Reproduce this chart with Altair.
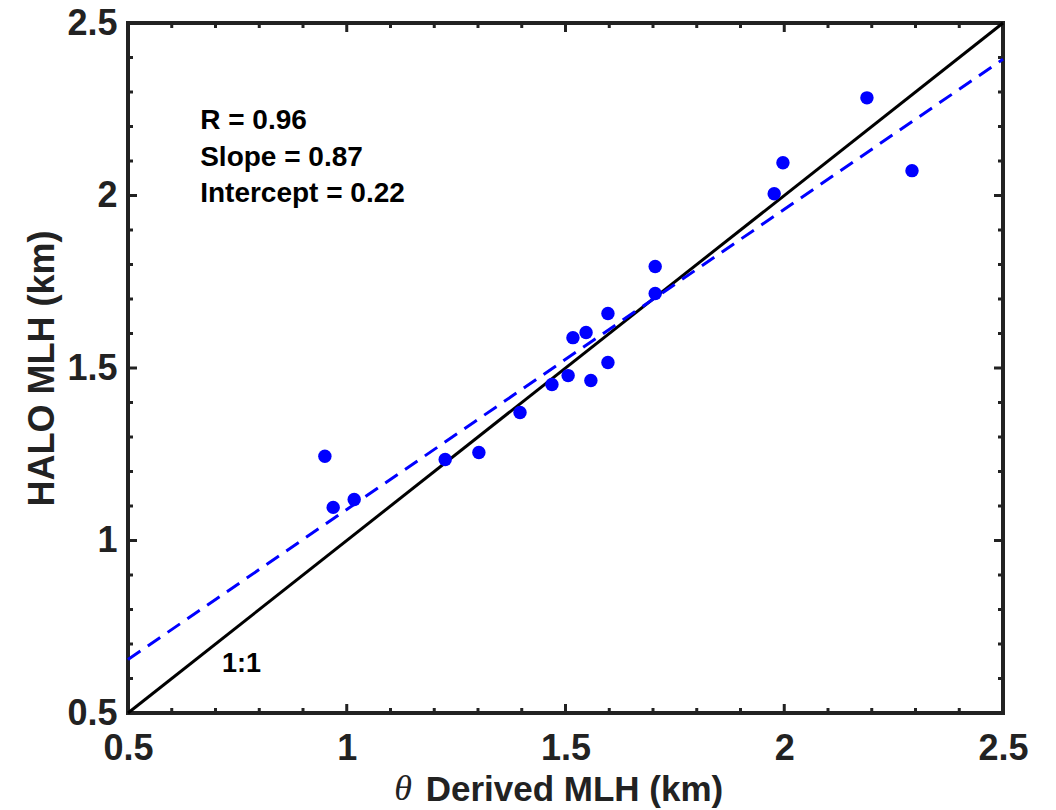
import altair as alt
import pandas as pd

# ---- data ----
theta_mlh = [0.950, 0.969, 1.017, 1.225, 1.302, 1.396, 1.469, 1.506, 1.517, 1.547,
             1.558, 1.597, 1.597, 1.705, 1.705, 1.977, 1.997, 2.189, 2.292]
halo_mlh = [1.244, 1.096, 1.119, 1.235, 1.255, 1.371, 1.452, 1.478, 1.588, 1.603,
            1.464, 1.658, 1.516, 1.794, 1.716, 2.005, 2.095, 2.283, 2.072]
fit_slope = 0.87
fit_intercept = 0.22
axis_range = [0.5, 2.5]
major_ticks = [0.5, 1.0, 1.5, 2.0, 2.5]
minor_ticks = [0.6, 0.7, 0.8, 0.9, 1.1, 1.2, 1.3, 1.4, 1.6, 1.7, 1.8, 1.9,
               2.1, 2.2, 2.3, 2.4]
stats_text = ["R = 0.96", "Slope = 0.87", "Intercept = 0.22"]
stats_y = [2.193, 2.086, 1.982]

W, H = 875, 690
FONT = "Liberation Sans"
INK = "#222222"

pts = pd.DataFrame({"x": theta_mlh, "y": halo_mlh})
one = pd.DataFrame({"x": axis_range, "y": axis_range})
fit = pd.DataFrame({"x": axis_range,
                    "y": [fit_slope * v + fit_intercept for v in axis_range]})
stats = pd.DataFrame({"x": [0.665] * 3, "y": stats_y, "t": stats_text})
maj = pd.DataFrame({"v": major_ticks})
mnr = pd.DataFrame({"v": minor_ticks})

xs = alt.Scale(domain=axis_range, nice=False, zero=False)
ys = alt.Scale(domain=axis_range, nice=False, zero=False)

xaxis = alt.Axis(values=major_ticks, format="~g", ticks=False, domain=False, grid=False,
                 labelFont=FONT, labelFontSize=36, labelFontWeight="bold", labelColor=INK,
                 labelPadding=18, labelFlush=False,
                 title="Derived MLH (km)", titleFont=FONT, titleFontSize=35,
                 titleFontWeight="bold", titleColor=INK, titleX=446, titleY=87,
                 titleBaseline="alphabetic")
yaxis = alt.Axis(values=major_ticks, format="~g", ticks=False, domain=False, grid=False,
                 labelFont=FONT, labelFontSize=36, labelFontWeight="bold", labelColor=INK,
                 labelPadding=11, labelFlush=False,
                 title="HALO MLH (km)", titleFont=FONT, titleFontSize=36,
                 titleFontWeight="bold", titleColor=INK, titleX=-75, titleY=345,
                 titleBaseline="alphabetic", titleAngle=-90)

base_pts = alt.Chart(pts).mark_circle(size=180, color="#0000ff", opacity=1).encode(
    x=alt.X("x:Q", scale=xs, axis=xaxis),
    y=alt.Y("y:Q", scale=ys, axis=yaxis),
)

one_line = alt.Chart(one).mark_line(color="black", strokeWidth=3).encode(
    x=alt.X("x:Q", scale=xs), y=alt.Y("y:Q", scale=ys))
fit_line = alt.Chart(fit).mark_line(color="#0000ff", strokeWidth=3,
                                    strokeDash=[15, 9]).encode(
    x=alt.X("x:Q", scale=xs), y=alt.Y("y:Q", scale=ys))

stats_txt = alt.Chart(stats).mark_text(font=FONT, fontSize=28, fontWeight="bold",
                                       color="black", align="left",
                                       baseline="alphabetic").encode(
    x=alt.X("x:Q", scale=xs), y=alt.Y("y:Q", scale=ys), text="t:N")

one_lbl = alt.Chart(pd.DataFrame({"x": [0.715], "y": [0.619], "t": ["1:1"]})).mark_text(
    font=FONT, fontSize=27, fontWeight="bold", color="black", align="left",
    baseline="alphabetic").encode(
    x=alt.X("x:Q", scale=xs), y=alt.Y("y:Q", scale=ys), text="t:N")

theta_lbl = alt.Chart(pd.DataFrame({"t": ["θ"]})).mark_text(
    font="Liberation Serif", fontSize=36, fontStyle="italic", color=INK,
    align="center", baseline="alphabetic").encode(
    x=alt.value(275), y=alt.value(777), text="t:N")


def ticks(df, length):
    bottom = alt.Chart(df).mark_rule(color=INK, strokeWidth=3).encode(
        x=alt.X("v:Q", scale=xs), y=alt.value(H), y2=alt.value(H - length))
    top = alt.Chart(df).mark_rule(color=INK, strokeWidth=3).encode(
        x=alt.X("v:Q", scale=xs), y=alt.value(0), y2=alt.value(length))
    left = alt.Chart(df).mark_rule(color=INK, strokeWidth=3).encode(
        y=alt.Y("v:Q", scale=ys), x=alt.value(0), x2=alt.value(length))
    right = alt.Chart(df).mark_rule(color=INK, strokeWidth=3).encode(
        y=alt.Y("v:Q", scale=ys), x=alt.value(W), x2=alt.value(W - length))
    return [bottom, top, left, right]


chart = alt.layer(
    *ticks(maj, 9), *ticks(mnr, 5),
    one_line, fit_line, base_pts, stats_txt, one_lbl, theta_lbl,
).properties(
    width=W, height=H,
    autosize=alt.AutoSizeParams(type="none"),
    padding={"left": 128, "top": 23, "right": 53, "bottom": 97},
    background="white",
).configure_view(stroke=INK, strokeWidth=4)

chart.save("out.html", embed_options={"renderer": "svg", "actions": False})
